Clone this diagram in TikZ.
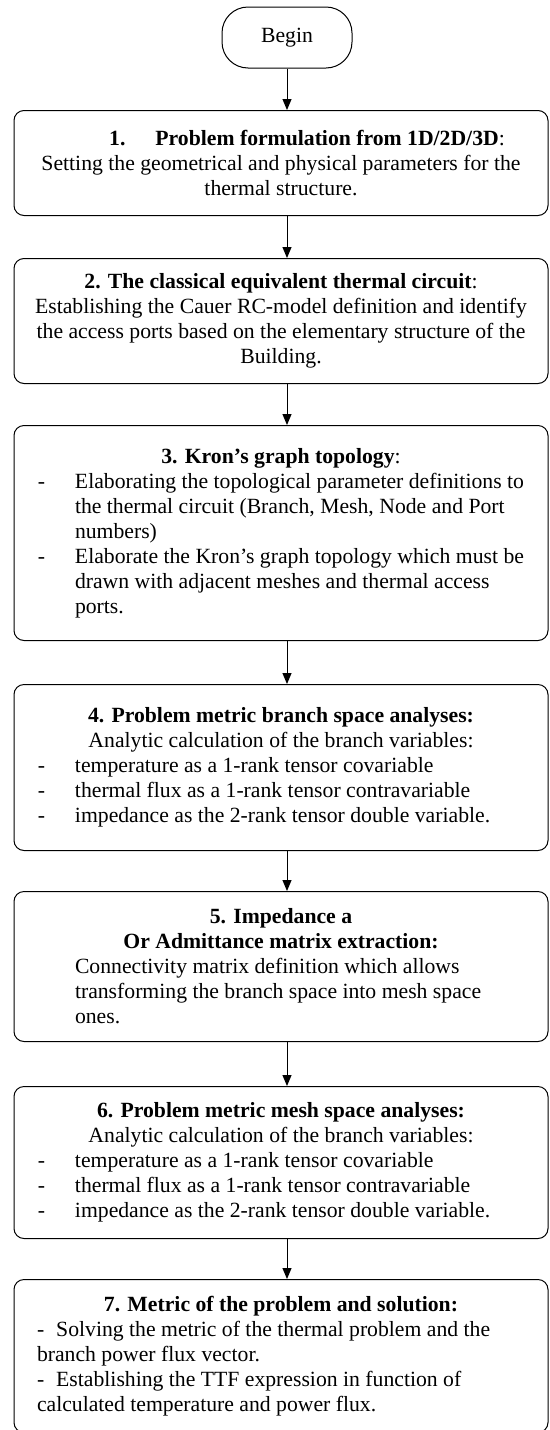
\documentclass[tikz,border=0pt]{standalone}
\usepackage{fontspec}
\setmainfont{Liberation Serif}
\usetikzlibrary{arrows.meta}

% line helpers for the text inside the step boxes
\newcommand{\boxtitle}[1]{\centerline{\bfseries #1}}
\newcommand{\midline}[1]{\centerline{#1}}
\newcommand{\dashitem}[1]{\noindent\hspace*{24pt}\makebox[37pt][l]{-}#1\par}
\newcommand{\hangline}[1]{\noindent\hspace*{61pt}#1\par}
\newcommand{\indline}[2]{\noindent\hspace*{#1}#2\par}
\newcommand{\boxtext}[1]{\begin{minipage}{534pt}\fontsize{21.7pt}{25pt}\selectfont #1\end{minipage}}

\tikzset{
  stepbox/.style={draw, line width=1pt, rounded corners=10pt, minimum width=534pt,
    inner sep=0pt, anchor=north},
  startbox/.style={draw, line width=1pt, rounded corners=26pt, minimum width=130pt,
    minimum height=61pt, inner sep=0pt, font=\fontsize{21.7pt}{25pt}\selectfont},
  flow/.style={line width=1pt, -{Triangle[width=9pt,length=11pt]}},
}

\begin{document}
\begin{tikzpicture}[x=1pt, y=-1pt]
\useasboundingbox (0,0) rectangle (549,1430);
\clip (0,0) rectangle (549,1430);

\node[startbox] (b0) at (287,37.5) {Begin};

\node[stepbox, minimum height=105pt] (b1) at (281,110) {\boxtext{%
  \boxtitle{\hspace*{52pt}1.\hspace{30pt}Problem formulation from 1D/2D/3D\mdseries:}
  \midline{Setting the geometrical and physical parameters for the}
  \midline{thermal structure.}}};

\node[stepbox, minimum height=125pt] (b2) at (281,258) {\boxtext{%
  \boxtitle{2. The classical equivalent thermal circuit\mdseries:}
  \midline{Establishing the Cauer RC-model definition and identify}
  \midline{the access ports based on the elementary structure of the}
  \midline{Building.}}};

\node[stepbox, minimum height=215pt] (b3) at (281,425) {\boxtext{%
  \boxtitle{3. Kron’s graph topology\mdseries:}
  \dashitem{Elaborating the topological parameter definitions to}
  \hangline{the thermal circuit (Branch, Mesh, Node and Port}
  \hangline{numbers)}
  \dashitem{Elaborate the Kron’s graph topology which must be}
  \hangline{drawn with adjacent meshes and thermal access}
  \hangline{ports.}}};

\node[stepbox, minimum height=166pt] (b4) at (281,684) {\boxtext{%
  \boxtitle{4. Problem metric branch space analyses:}
  \midline{Analytic calculation of the branch variables:}
  \dashitem{temperature as a 1-rank tensor covariable}
  \dashitem{thermal flux as a 1-rank tensor contravariable}
  \dashitem{impedance as the 2-rank tensor double variable.}}};

\node[stepbox, minimum height=150pt] (b5) at (281,891) {\boxtext{%
  \boxtitle{5. Impedance a}
  \boxtitle{Or Admittance matrix extraction:}
  \hangline{Connectivity matrix definition which allows}
  \hangline{transforming the branch space into mesh space}
  \hangline{ones.}}};

\node[stepbox, minimum height=152pt] (b6) at (281,1086) {\boxtext{%
  \boxtitle{6. Problem metric mesh space analyses:}
  \midline{Analytic calculation of the branch variables:}
  \dashitem{temperature as a 1-rank tensor covariable}
  \dashitem{thermal flux as a 1-rank tensor contravariable}
  \dashitem{impedance as the 2-rank tensor double variable.}}};

\node[stepbox, minimum height=153pt] (b7) at (281,1279) {\boxtext{%
  \boxtitle{7. Metric of the problem and solution:}
  \indline{23pt}{-\hspace{12pt}Solving the metric of the thermal problem and the}
  \indline{23pt}{branch power flux vector.}
  \indline{23pt}{-\hspace{12pt}Establishing the TTF expression in function of}
  \indline{23pt}{calculated temperature and power flux.}}};

% connectors, all on the axis of the start box
\draw[flow] (b0.south) -- (b0.south |- b1.north);
\draw[flow] (b1.south -| b0.south) -- (b2.north -| b0.south);
\draw[flow] (b2.south -| b0.south) -- (b3.north -| b0.south);
\draw[flow] (b3.south -| b0.south) -- (b4.north -| b0.south);
\draw[flow] (b4.south -| b0.south) -- (b5.north -| b0.south);
\draw[flow] (b5.south -| b0.south) -- (b6.north -| b0.south);
\draw[flow] (b6.south -| b0.south) -- (b7.north -| b0.south);
\end{tikzpicture}
\end{document}
